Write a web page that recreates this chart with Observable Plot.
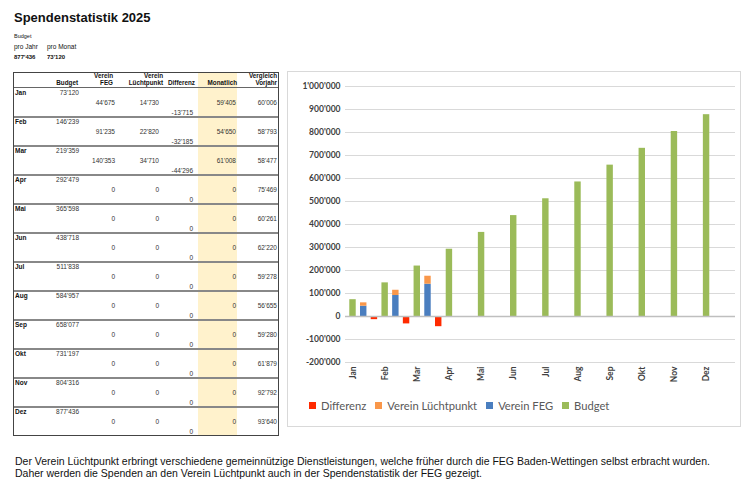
<!DOCTYPE html>
<html><head><meta charset="utf-8">
<script src="https://cdn.jsdelivr.net/npm/d3@7"></script>
<script src="https://cdn.jsdelivr.net/npm/@observablehq/plot@0.6"></script>
<style>
body{margin:0;background:#fff;}
#page{position:relative;width:751px;height:487px;overflow:hidden;font-family:"Liberation Sans",Arial,sans-serif;color:#111;}
.t{position:absolute;white-space:nowrap;}
#frame{position:absolute;left:287px;top:71px;width:454px;height:356px;border:1px solid #d9d9d9;box-sizing:border-box;}
#chart{position:absolute;left:288px;top:72px;}
#legend{position:absolute;left:309px;top:399px;display:flex;align-items:center;font-family:Lato,"Open Sans",sans-serif;font-size:11.2px;color:#595959;}
#legend .sw{width:7px;height:7px;margin-right:5px;}
#legend .lb{margin-right:9px;}
</style></head><body><div id="page"></div>
<script>
// ---- data ----
const months = ["Jan","Feb","Mar","Apr","Mai","Jun","Jul","Aug","Sep","Okt","Nov","Dez"];
const budget = [73120,146239,219359,292479,365598,438718,511838,584957,658077,731197,804316,877436];
const vereinFEG = [44675,91235,140353,0,0,0,0,0,0,0,0,0];
const vereinLuechtpunkt = [14730,22820,34710,0,0,0,0,0,0,0,0,0];
const differenz = [-13715,-32185,-44296,0,0,0,0,0,0,0,0,0];
const monatlich = [59405,54650,61008,0,0,0,0,0,0,0,0,0];
const vorjahr = [60006,58793,58477,75469,60261,62220,59278,56655,59280,61879,92792,93640];
const yTicks = [-200000,-100000,0,100000,200000,300000,400000,500000,600000,700000,800000,900000,1000000];
const seriesNames = ["Differenz","Verein Lüchtpunkt","Verein FEG","Budget"];
const budgetJahr = 877436, budgetMonat = 73120;
const tableHeaders = [["Budget"],["Verein","FEG"],["Verein","Lüchtpunkt"],["Differenz"],["Monatlich"],["Vergleich","Vorjahr"]];
const titleText = "Spendenstatistik 2025";
const captionLines = [
  "Der Verein Lüchtpunkt erbringt verschiedene gemeinnützige Dienstleistungen, welche früher durch die FEG Baden-Wettingen selbst erbracht wurden.",
  "Daher werden die Spenden an den Verein Lüchtpunkt auch in der Spendenstatistik der FEG gezeigt."
];

const seriesColors = ["#FF2A00","#F9974A","#4A7EBF","#9BBB59"];
const fmt = d3.formatLocale({decimal:".",thousands:"'",grouping:[3],currency:["",""],minus:"-"}).format(",d");

const page = document.getElementById("page");
function txt(s, x, yc, size, opts={}) {
  const d = document.createElement("div");
  d.className = "t";
  d.textContent = s;
  d.style.fontSize = size + "px";
  d.style.lineHeight = size + "px";
  d.style.left = x + "px";
  d.style.top = (yc - size/2) + "px";
  if (opts.bold) d.style.fontWeight = "bold";
  if (opts.right) d.style.transform = "translateX(-100%)";
  if (opts.color) d.style.color = opts.color;
  if (opts.family) d.style.fontFamily = opts.family;
  page.appendChild(d);
  return d;
}
function box(x, y, w, h, style) {
  const d = document.createElement("div");
  d.style.position = "absolute";
  d.style.left = x + "px"; d.style.top = y + "px";
  d.style.width = w + "px"; d.style.height = h + "px";
  Object.assign(d.style, style);
  page.appendChild(d);
  return d;
}

// ---- header block ----
txt(titleText, 14, 17, 13, {bold:true});
txt("Budget", 14, 37, 5.5);
txt("pro Jahr", 14, 47, 6.5);
txt("pro Monat", 47, 47, 6.5);
txt(fmt(budgetJahr), 14, 57, 6, {bold:true});
txt(fmt(budgetMonat), 47, 57, 6, {bold:true});

// ---- table ----
const tX0 = 13, tX1 = 279, tY0 = 72, hdrBottom = 88, rowH = 29;
box(198, tY0, 39, 12*rowH + (hdrBottom - tY0), {background:"#FFF2CC"});
const hdrRight = [78, 113, 163, 195, 237, 277];
tableHeaders.forEach((lines, j) => {
  lines.forEach((s, k) => {
    const yc = lines.length === 2 ? (k === 0 ? 76 : 83.5) : 83.5;
    txt(s, hdrRight[j], yc, 6.3, {bold:true, right:true});
  });
});
box(tX0, hdrBottom - 1, tX1 - tX0, 1, {background:"#666"});
const valRight = [79, 115, 159, 193, 236, 277];
months.forEach((m, i) => {
  const top = hdrBottom + i*rowH;
  txt(m, 15, top + 5, 6.5, {bold:true});
  txt(fmt(budget[i]), valRight[0], top + 5, 6.5, {right:true, color:"#333"});
  txt(fmt(vereinFEG[i]), valRight[1], top + 15, 6.5, {right:true, color:"#333"});
  txt(fmt(vereinLuechtpunkt[i]), valRight[2], top + 15, 6.5, {right:true, color:"#333"});
  txt(fmt(differenz[i]), valRight[3], top + 25, 6.5, {right:true, color:"#333"});
  txt(fmt(monatlich[i]), valRight[4], top + 15, 6.5, {right:true, color:"#333"});
  txt(fmt(vorjahr[i]), valRight[5], top + 15, 6.5, {right:true, color:"#333"});
  if (i > 0) box(tX0, top - 1, tX1 - tX0, 1.5, {background:"#888"});
});
box(tX0, tY0, tX1 - tX0, hdrBottom + 12*rowH - tY0, {border:"1.5px solid #444", boxSizing:"border-box"});

// ---- chart ----
const frame = document.createElement("div"); frame.id = "frame"; page.appendChild(frame);
const keys = months.flatMap(m => [m + "|B", m + "|V", m + "|D"]);
const budgetData = months.map((m, i) => ({key: m + "|B", series: "Budget", value: budget[i]}));
const stackData = months.flatMap((m, i) => [
  {key: m + "|V", series: "Verein FEG", value: vereinFEG[i]},
  {key: m + "|V", series: "Verein Lüchtpunkt", value: vereinLuechtpunkt[i]}
]);
const diffData = months.map((m, i) => ({key: m + "|D", series: "Differenz", value: differenz[i]}));

const chart = Plot.plot({
  width: 452, height: 318,
  marginLeft: 57, marginRight: 5, marginTop: 14, marginBottom: 28,
  style: {fontFamily: "Lato, 'Open Sans', sans-serif", fontSize: "8.5px", fontWeight: "bold", color: "#404040", background: "transparent", overflow: "visible"},
  x: {domain: keys, padding: 0.4, round: false, axis: null},
  y: {domain: [-200000, 1000000], axis: null},
  color: {domain: seriesNames, range: seriesColors},
  marks: [
    Plot.ruleY(yTicks.filter(d => d !== 0), {stroke: "#d9d9d9", strokeWidth: 1}),
    Plot.axisY({ticks: yTicks, tickSize: 0, tickPadding: 5, tickFormat: fmt, fill: "#404040", label: null}),
    Plot.barY(budgetData, {x: "key", y: "value", fill: "series"}),
    Plot.barY(stackData, {x: "key", y: "value", fill: "series"}),
    Plot.barY(diffData, {x: "key", y: "value", fill: "series"}),
    Plot.ruleY([0], {stroke: "#bfbfbf", strokeWidth: 1.5}),
    Plot.axisX({ticks: keys.filter(k => k.endsWith("|B")), tickFormat: k => k.split("|")[0], tickRotate: -90, tickSize: 0, tickPadding: 4, fill: "#404040", label: null})
  ]
});
chart.id = "chart";
page.appendChild(chart);

// legend
const legend = document.createElement("div"); legend.id = "legend";
seriesNames.forEach((s, i) => {
  const sw = document.createElement("div"); sw.className = "sw"; sw.style.background = seriesColors[i];
  const lb = document.createElement("div"); lb.className = "lb"; lb.textContent = s;
  legend.appendChild(sw); legend.appendChild(lb);
});
page.appendChild(legend);

// caption
captionLines.forEach((s, i) => txt(s, 15, 461 + i*12.5, 10.5, {color:"#111"}));
</script></body></html>
